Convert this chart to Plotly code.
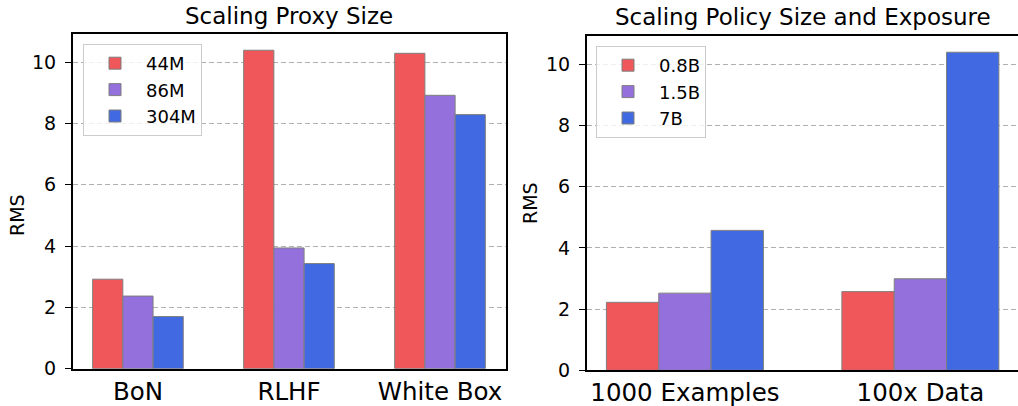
import plotly.graph_objects as go

# Left panel data
proxy_categories = ["BoN", "RLHF", "White Box"]
proxy_series = ["44M", "86M", "304M"]
proxy_44m = [2.92, 10.39, 10.29]
proxy_86m = [2.37, 3.94, 8.92]
proxy_304m = [1.70, 3.43, 8.29]

# Right panel data
policy_categories = ["1000 Examples", "100x Data"]
policy_series = ["0.8B", "1.5B", "7B"]
policy_08b = [2.22, 2.57]
policy_15b = [2.52, 2.99]
policy_7b = [4.57, 10.39]

y_ticks = [0, 2, 4, 6, 8, 10]

colors = ["#F0575A", "#9370DB", "#4169E1"]
FONT = "DejaVu Sans"
W, H = 1018, 406

fig = go.Figure()

left_vals = [proxy_44m, proxy_86m, proxy_304m]
bw_l = 0.2
for i, (name, vals) in enumerate(zip(proxy_series, left_vals)):
    fig.add_trace(go.Bar(
        x=proxy_categories, y=vals, name=name,
        width=bw_l, offset=-1.5 * bw_l + i * bw_l,
        marker=dict(color=colors[i], line=dict(color="#7f7f7f", width=1)),
        xaxis="x", yaxis="y", legend="legend",
    ))

right_vals = [policy_08b, policy_15b, policy_7b]
bw_r = 2 / 9
for i, (name, vals) in enumerate(zip(policy_series, right_vals)):
    fig.add_trace(go.Bar(
        x=policy_categories, y=vals, name=name,
        width=bw_r, offset=-1.5 * bw_r + i * bw_r,
        marker=dict(color=colors[i], line=dict(color="#7f7f7f", width=1)),
        xaxis="x2", yaxis="y2", legend="legend2",
    ))

def px_x(p):
    return p / W

def px_y(p):
    return 1 - p / H

common_x = dict(
    type="category", showline=True, mirror=True, linecolor="black", linewidth=1.5,
    ticks="", showgrid=False, zeroline=False, automargin=False,
    tickfont=dict(family=FONT, size=24.5, color="black"),
)
common_y = dict(
    showline=True, mirror=True, linecolor="black", linewidth=1.5,
    ticks="outside", ticklen=6, tickwidth=1.2, tickcolor="black",
    tickvals=y_ticks, range=[0, 10.92], automargin=False,
    showgrid=True, gridcolor="#b0b0b0", gridwidth=1, griddash="5px,3px",
    zeroline=False, ticklabelstandoff=5,
    tickfont=dict(family=FONT, size=19, color="black"),
)

legend_common = dict(
    bgcolor="rgba(255,255,255,0.8)", bordercolor="#cccccc", borderwidth=1,
    font=dict(family=FONT, size=18, color="black"),
    xanchor="left", yanchor="top", traceorder="normal",
    itemwidth=52, tracegroupgap=0,
)

fig.update_layout(
    width=W, height=H,
    margin=dict(l=0, r=0, t=0, b=0, autoexpand=False),
    paper_bgcolor="white", plot_bgcolor="white",
    barmode="overlay",
    font=dict(family=FONT, color="black"),
    xaxis=dict(domain=[px_x(72.7), px_x(505.7)], range=[-0.432, 2.435], anchor="y", **common_x),
    yaxis=dict(domain=[px_y(368.7), px_y(34)], anchor="x", **common_y),
    xaxis2=dict(domain=[px_x(586.7), 1.0], range=[-0.417, 1.4145], anchor="y2", **common_x),
    yaxis2=dict(domain=[px_y(370.3), px_y(36)], anchor="x2", **common_y),
    legend=dict(x=px_x(83), y=px_y(44), **legend_common),
    legend2=dict(x=px_x(596), y=px_y(46), **legend_common),
    showlegend=True,
    annotations=[
        dict(text="Scaling Proxy Size", x=px_x(289.2), y=px_y(16), xref="paper", yref="paper",
             xanchor="center", yanchor="middle", showarrow=False,
             font=dict(family=FONT, size=23, color="black")),
        dict(text="Scaling Policy Size and Exposure", x=px_x(802.6), y=px_y(17), xref="paper", yref="paper",
             xanchor="center", yanchor="middle", showarrow=False,
             font=dict(family=FONT, size=23, color="black")),
        dict(text="RMS", x=px_x(17), y=px_y(215), xref="paper", yref="paper",
             xanchor="center", yanchor="middle", showarrow=False, textangle=-90,
             font=dict(family=FONT, size=19, color="black")),
        dict(text="RMS", x=px_x(530), y=px_y(203), xref="paper", yref="paper",
             xanchor="center", yanchor="middle", showarrow=False, textangle=-90,
             font=dict(family=FONT, size=19, color="black")),
    ],
)

fig.write_html(
    "out.html",
    config={"displayModeBar": False},
    post_script="document.body.style.margin='0';document.body.style.overflow='hidden';",
)
